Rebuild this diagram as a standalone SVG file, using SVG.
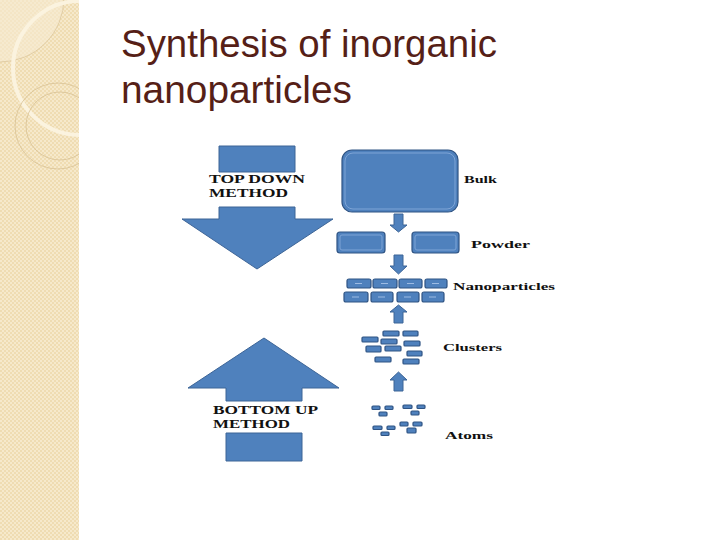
<svg xmlns="http://www.w3.org/2000/svg" width="720" height="540" viewBox="0 0 720 540">
<defs>
<style>
.blue{fill:#4f81bd;stroke:#3c6496;stroke-width:1}
.bev{fill:none;stroke:#7ea4d6;stroke-width:1}
.box{fill:#4f81bd;stroke:#2f5484;stroke-width:1.2}
.lbl{font-family:"Liberation Serif","Times New Roman",serif;font-weight:bold;font-size:11px;fill:#111}
.big{font-family:"Liberation Serif","Times New Roman",serif;font-weight:bold;font-size:12.5px;fill:#111}
.title{font-family:"Liberation Sans",Arial,sans-serif;font-size:38px;fill:#561f17}
.dash{stroke:#9dbbe3;stroke-width:1}
</style>
<pattern id="chk" width="4" height="4" patternUnits="userSpaceOnUse">
<rect width="4" height="4" fill="#efdcb2"/>
<rect width="2" height="2" fill="#f6e9cb"/>
<rect x="2" y="2" width="2" height="2" fill="#f6e9cb"/>
</pattern>
<clipPath id="band"><rect x="0" y="0" width="79" height="540"/></clipPath>
</defs>
<rect width="720" height="540" fill="#ffffff"/>
<g id="band-decor" clip-path="url(#band)">
<rect x="0" y="0" width="79" height="540" fill="url(#chk)"/>
<circle cx="0" cy="-2" r="64" fill="#f6ebd2" fill-opacity="0.6" stroke="#dcc79c" stroke-width="0.8"/>
<circle cx="80" cy="68" r="67" fill="none" stroke="#fbf3df" stroke-width="4"/>
<circle cx="58" cy="126" r="43" fill="none" stroke="#d8c294" stroke-width="0.8"/>
<circle cx="60" cy="126" r="34" fill="none" stroke="#d8c294" stroke-width="0.8"/>
</g>
<g id="title">
<text class="title" x="121" y="57" textLength="376" lengthAdjust="spacingAndGlyphs">Synthesis of inorganic</text>
<text class="title" x="121" y="103" textLength="231" lengthAdjust="spacingAndGlyphs">nanoparticles</text>
</g>
<g id="top-down">
<path class="blue" d="M219,146 H295 V172 H219 Z"/>
<path class="blue" d="M219,207 H295 V219 H333 L257,269 L182,219 H219 Z"/>
<text class="big" x="209" y="183" textLength="96" lengthAdjust="spacingAndGlyphs">TOP DOWN</text>
<text class="big" x="209" y="197" textLength="79" lengthAdjust="spacingAndGlyphs">METHOD</text>
</g>
<g id="bottom-up">
<path class="blue" d="M226,401 V388 H188 L264,338 L339,388 H302 V401 Z"/>
<path class="blue" d="M226,433 H302 V461 H226 Z"/>
<text class="big" x="213" y="414" textLength="105" lengthAdjust="spacingAndGlyphs">BOTTOM UP</text>
<text class="big" x="213" y="428" textLength="77" lengthAdjust="spacingAndGlyphs">METHOD</text>
</g>
<g id="bulk">
<rect class="box" x="342" y="150" width="116" height="62" rx="10"/>
<rect class="bev" x="345" y="153" width="110" height="56" rx="8"/>
<text class="lbl" x="464" y="183" textLength="33" lengthAdjust="spacingAndGlyphs">Bulk</text>
</g>
<g id="powder">
<rect class="box" x="337" y="232" width="48" height="21" rx="3"/>
<rect class="bev" x="340" y="235" width="42" height="15" rx="2"/>
<rect class="box" x="412" y="232" width="47" height="21" rx="3"/>
<rect class="bev" x="415" y="235" width="41" height="15" rx="2"/>
<text class="lbl" x="471" y="248" textLength="59" lengthAdjust="spacingAndGlyphs">Powder</text>
</g>
<g id="nanoparticles">
<rect class="box" x="347" y="279" width="24" height="9" rx="2"/>
<rect class="box" x="373" y="279" width="24" height="9" rx="2"/>
<rect class="box" x="399" y="279" width="23" height="9" rx="2"/>
<rect class="box" x="425" y="279" width="22" height="9" rx="2"/>
<rect class="box" x="344" y="292" width="24" height="10" rx="2"/>
<rect class="box" x="371" y="292" width="22" height="10" rx="2"/>
<rect class="box" x="397" y="292" width="22" height="10" rx="2"/>
<rect class="box" x="422" y="292" width="22" height="10" rx="2"/>
<path class="dash" d="M355,283.5 h7 M381,283.5 h7 M407,283.5 h7 M432,283.5 h7 M352,297 h7 M378,297 h7 M404,297 h7 M429,297 h7"/>
<text class="lbl" x="453" y="290" textLength="102" lengthAdjust="spacingAndGlyphs">Nanoparticles</text>
</g>
<g id="clusters">
<rect class="box" x="383" y="331" width="16" height="5" rx="1"/>
<rect class="box" x="403" y="331" width="15" height="5" rx="1"/>
<rect class="box" x="362" y="337" width="16" height="5" rx="1"/>
<rect class="box" x="381" y="339" width="16" height="5" rx="1"/>
<rect class="box" x="404" y="341" width="16" height="5" rx="1"/>
<rect class="box" x="366" y="346" width="15" height="6" rx="1"/>
<rect class="box" x="385" y="346" width="16" height="5" rx="1"/>
<rect class="box" x="407" y="351" width="15" height="5" rx="1"/>
<rect class="box" x="375" y="357" width="16" height="5" rx="1"/>
<rect class="box" x="403" y="359" width="16" height="5" rx="1"/>
<text class="lbl" x="443" y="351" textLength="59" lengthAdjust="spacingAndGlyphs">Clusters</text>
</g>
<g id="atoms">
<rect class="box" x="372" y="406" width="8" height="3.5" rx="1"/>
<rect class="box" x="385" y="406" width="8" height="3.5" rx="1"/>
<rect class="box" x="379" y="412" width="8" height="4" rx="1"/>
<rect class="box" x="403" y="405" width="9" height="3.5" rx="1"/>
<rect class="box" x="417" y="405" width="8" height="3.5" rx="1"/>
<rect class="box" x="411" y="411" width="8" height="4" rx="1"/>
<rect class="box" x="373" y="426" width="9" height="3.5" rx="1"/>
<rect class="box" x="387" y="426" width="8" height="3.5" rx="1"/>
<rect class="box" x="381" y="432" width="8" height="3.5" rx="1"/>
<rect class="box" x="400" y="422" width="8" height="4" rx="1"/>
<rect class="box" x="413" y="422" width="9" height="4" rx="1"/>
<rect class="box" x="407" y="428" width="9" height="5" rx="1"/>
<text class="lbl" x="445" y="439" textLength="48" lengthAdjust="spacingAndGlyphs">Atoms</text>
</g>
<g id="connectors">
<path class="blue" d="M394,214 H403 V225 H407 L398.5,232 L390,225 H394 Z"/>
<path class="blue" d="M394,255 H403 V266 H407 L398.5,274 L390,266 H394 Z"/>
<path class="blue" d="M394,323 V312 H390 L398.5,305 L407,312 H403 V323 Z"/>
<path class="blue" d="M394,391 V380 H390 L398.5,372 L407,380 H403 V391 Z"/>
</g>
</svg>
